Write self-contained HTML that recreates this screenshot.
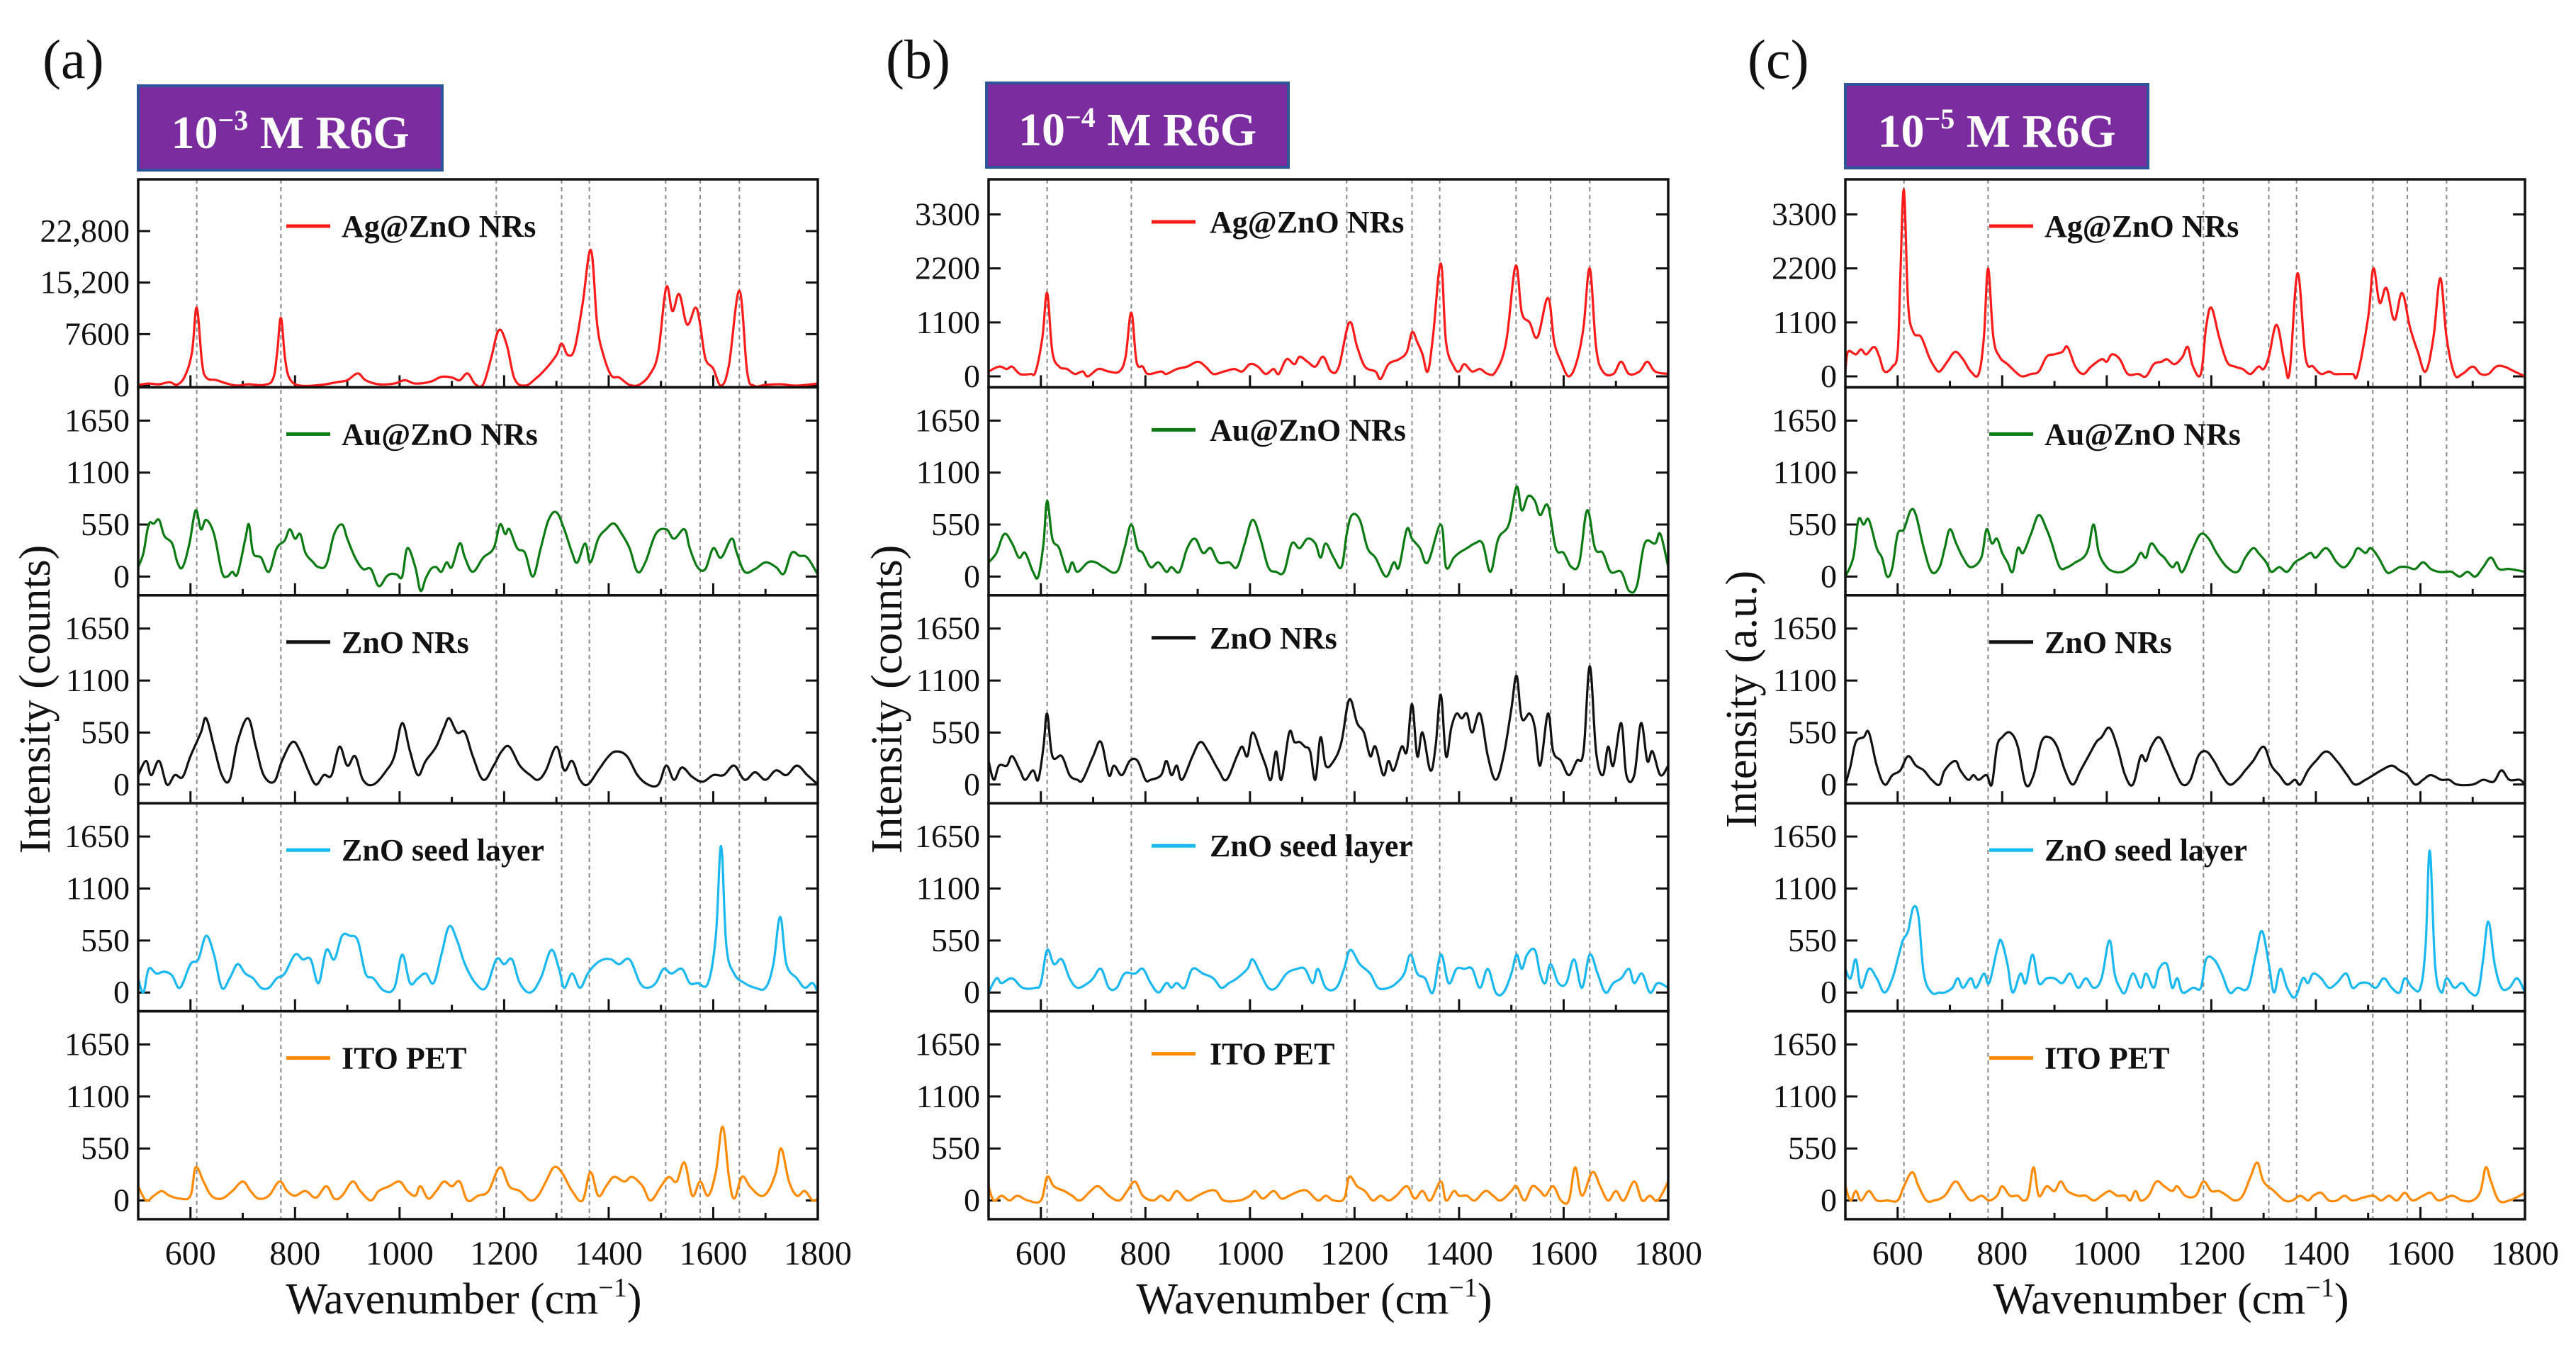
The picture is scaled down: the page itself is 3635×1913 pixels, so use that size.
<!DOCTYPE html>
<html><head><meta charset="utf-8"><style>
html,body{margin:0;padding:0;background:#fff;}
svg{display:block;}
svg text{font-family:"Liberation Serif","Times New Roman",serif;}
</style></head><body>
<svg id="fig" width="3635" height="1913" viewBox="0 0 3635 1913" xmlns="http://www.w3.org/2000/svg" font-family="Liberation Serif, serif"></svg>
<script>
// ---------- DATA (wavenumber, intensity pairs) ----------
const peakLines = [612, 773, 1185, 1310, 1363, 1509, 1575, 1650];
const xTicks = [600, 800, 1000, 1200, 1400, 1600, 1800];
const xMinor = [500, 700, 900, 1100, 1300, 1500, 1700];
const ticksAgA = [0, 7600, 15200, 22800];
const tickLabelsAgA = ["0", "7600", "15,200", "22,800"];
const ticksAgBC = [0, 1100, 2200, 3300];
const ticksLow = [0, 550, 1100, 1650];
const seriesNames = ["Ag@ZnO NRs", "Au@ZnO NRs", "ZnO NRs", "ZnO seed layer", "ITO PET"];
const seriesColors = ["#ff1a1a", "#0a7a12", "#111111", "#19b8f0", "#ff8a00"];
const panelLabels = ["(a)", "(b)", "(c)"];
const panelExp = ["\u22123", "\u22124", "\u22125"];
const yTitles = ["Intensity (counts)", "Intensity (counts)", "Intensity (a.u.)"];

const aAg = [500,100,520,300,540,200,560,500,575,150,590,1500,603,5000,612,11500,622,3500,630,1200,650,800,670,300,690,0,710,200,740,100,758,1000,766,5000,773,10000,781,4000,790,1000,810,0,850,100,880,500,900,800,920,1800,935,800,960,200,990,300,1010,800,1030,300,1060,600,1080,1300,1100,1200,1115,800,1130,1800,1145,200,1160,200,1175,4000,1190,8200,1205,6000,1220,1000,1240,0,1260,1000,1280,2500,1300,4500,1310,6200,1322,4500,1335,5500,1350,12000,1366,20000,1378,9000,1390,4500,1405,1500,1420,1200,1440,100,1460,200,1480,1800,1495,5000,1510,14500,1522,11000,1535,13500,1550,9000,1566,11500,1575,9000,1585,4000,1600,2500,1615,0,1630,3000,1650,14000,1665,2000,1678,0,1700,100,1730,200,1760,0,1800,300];
const aAu = [500,100,510,250,520,550,530,560,540,600,550,430,565,350,575,150,585,100,598,350,610,700,620,500,630,600,645,450,660,50,670,0,680,50,690,30,705,400,712,550,720,250,735,200,750,50,765,300,780,380,790,500,800,400,810,450,820,250,835,150,845,100,860,130,875,450,890,550,900,400,915,200,930,80,945,80,960,-100,975,0,985,30,995,20,1005,0,1015,300,1030,100,1040,-150,1050,-20,1060,80,1070,100,1080,50,1090,150,1100,100,1115,350,1125,200,1140,50,1160,200,1180,300,1192,550,1202,450,1210,500,1225,300,1240,250,1255,0,1270,300,1285,600,1300,680,1315,500,1330,250,1340,150,1355,350,1365,150,1380,400,1395,500,1410,560,1425,450,1440,300,1455,50,1470,150,1490,450,1510,500,1525,400,1545,500,1555,300,1570,100,1585,80,1600,300,1615,200,1635,400,1645,250,1660,50,1680,80,1700,150,1720,100,1735,30,1750,250,1765,220,1780,200,1800,20];
const aZnO = [500,100,515,250,525,100,540,250,555,0,570,100,585,80,600,300,620,550,630,700,645,400,660,100,675,50,690,450,710,700,725,400,740,100,760,30,775,250,795,450,810,350,825,150,840,0,855,100,870,100,885,400,900,200,915,300,930,50,950,0,975,150,990,300,1005,650,1020,350,1035,100,1050,250,1070,400,1085,600,1095,700,1110,550,1125,550,1140,300,1160,50,1180,200,1195,350,1210,400,1230,200,1250,100,1265,50,1280,150,1300,400,1315,150,1330,250,1345,50,1360,0,1380,150,1400,300,1415,350,1435,300,1455,100,1475,0,1495,0,1510,200,1525,50,1540,180,1560,80,1580,30,1600,100,1620,100,1640,200,1660,50,1680,130,1700,50,1720,150,1740,100,1760,200,1780,100,1800,0];
const aSeed = [500,150,510,0,520,250,535,200,550,220,565,180,580,50,600,300,615,350,630,600,645,400,660,50,675,150,690,300,705,200,720,150,735,50,750,50,765,150,780,200,800,400,815,350,830,350,845,100,860,450,875,350,890,600,905,600,920,550,935,200,950,150,970,20,990,50,1005,400,1020,100,1035,150,1050,200,1065,100,1080,400,1095,700,1110,550,1125,300,1145,100,1165,50,1185,350,1200,300,1215,350,1230,100,1250,0,1270,150,1290,450,1305,250,1315,50,1330,200,1345,50,1360,200,1375,300,1390,350,1405,350,1420,300,1440,350,1460,100,1475,50,1490,100,1505,250,1520,200,1540,250,1555,100,1570,100,1590,100,1605,600,1615,1550,1625,500,1640,200,1660,100,1680,50,1700,50,1715,300,1728,800,1740,300,1760,150,1775,50,1790,100,1800,0];
const aITO = [500,150,515,0,530,50,545,100,560,50,580,20,600,50,610,350,625,200,640,50,660,20,680,100,700,200,715,100,730,20,750,50,770,200,785,100,800,50,820,100,840,30,860,150,875,20,890,50,910,200,925,100,945,0,960,100,980,150,1000,200,1015,100,1030,50,1040,150,1055,20,1070,100,1085,200,1100,150,1115,200,1130,0,1150,50,1170,100,1192,350,1210,150,1230,100,1250,0,1265,50,1280,200,1295,350,1310,300,1330,100,1350,0,1365,300,1380,50,1395,150,1410,250,1430,200,1445,250,1465,150,1480,0,1500,150,1515,250,1530,200,1545,400,1560,50,1575,200,1590,50,1605,300,1618,780,1630,250,1640,20,1655,250,1670,150,1690,50,1705,100,1720,300,1730,550,1745,200,1760,50,1775,100,1790,0,1800,20];

const bAg = [500,100,520,200,535,150,545,200,560,50,580,50,590,100,603,800,612,1700,622,500,635,200,650,150,665,50,680,100,690,0,710,150,730,100,750,100,762,400,773,1300,783,300,795,200,805,50,830,100,840,50,860,150,880,200,900,300,915,200,930,50,950,100,970,150,985,100,1000,250,1015,200,1030,50,1045,150,1055,50,1070,350,1085,250,1095,400,1110,300,1125,200,1140,400,1155,100,1170,200,1190,1100,1205,600,1220,200,1240,100,1250,-50,1265,250,1285,350,1300,500,1310,900,1320,700,1330,450,1340,100,1350,800,1365,2300,1375,700,1390,200,1400,100,1410,250,1425,100,1440,150,1455,50,1470,100,1490,700,1508,2250,1520,1300,1535,1100,1550,800,1570,1600,1582,700,1595,300,1610,0,1625,300,1638,1000,1650,2200,1662,600,1675,100,1695,50,1710,300,1725,50,1745,100,1760,300,1775,100,1800,50];
const bAu = [500,150,515,250,530,450,545,350,558,200,570,250,585,50,595,0,605,350,612,800,622,400,635,300,650,50,660,150,670,50,690,150,705,150,720,100,745,50,760,300,773,550,785,300,795,250,810,100,825,150,840,50,850,100,865,50,880,300,895,400,910,250,925,300,940,150,960,150,975,100,990,350,1005,600,1020,400,1035,100,1050,50,1065,50,1080,350,1095,300,1110,400,1125,350,1135,200,1145,350,1160,200,1175,100,1185,450,1195,650,1210,600,1225,300,1240,200,1260,0,1275,150,1285,100,1300,500,1310,400,1325,300,1340,150,1365,550,1375,100,1390,200,1400,250,1415,300,1430,350,1445,350,1460,50,1475,400,1495,550,1510,950,1520,700,1532,850,1545,800,1555,650,1570,750,1585,300,1600,250,1615,100,1630,150,1645,700,1660,300,1675,250,1690,50,1710,50,1725,-150,1740,-100,1755,350,1775,350,1785,450,1800,100];
const bZnO = [500,250,510,50,520,200,535,200,545,300,560,150,570,50,585,150,595,50,605,400,612,750,622,300,640,300,655,100,670,50,680,50,700,300,715,450,730,100,740,200,755,100,770,250,785,250,800,50,810,50,830,100,840,250,850,100,860,200,870,50,890,300,905,450,920,350,940,150,955,50,975,300,985,400,995,300,1005,550,1020,350,1030,200,1040,50,1050,350,1060,50,1075,550,1085,450,1095,450,1105,400,1115,350,1125,50,1135,500,1145,200,1160,250,1175,450,1190,900,1205,650,1218,550,1230,300,1240,400,1255,100,1265,250,1275,150,1290,400,1300,350,1310,850,1320,300,1330,550,1345,150,1355,400,1365,950,1375,300,1385,600,1395,750,1405,700,1415,750,1425,550,1440,750,1455,300,1470,50,1485,300,1500,800,1510,1150,1520,700,1535,750,1545,600,1555,200,1570,750,1580,350,1595,250,1610,100,1625,250,1638,350,1650,1250,1662,350,1675,100,1685,400,1695,200,1710,650,1720,100,1735,100,1748,650,1760,250,1770,350,1785,100,1800,200];
const bSeed = [500,0,515,150,525,100,545,150,565,50,590,50,600,100,612,450,625,300,640,350,655,150,670,50,690,100,700,150,715,250,730,50,745,50,760,200,780,200,795,250,810,100,825,0,840,100,850,50,860,100,875,50,890,250,910,200,930,150,945,50,960,100,975,150,995,250,1005,350,1020,200,1035,50,1050,50,1070,200,1090,250,1105,250,1120,100,1130,250,1145,50,1165,50,1180,250,1192,450,1210,300,1230,200,1245,50,1265,50,1280,100,1295,200,1307,400,1320,200,1335,150,1350,0,1365,400,1380,100,1395,250,1410,250,1425,250,1440,50,1455,250,1470,0,1485,0,1500,200,1510,400,1520,250,1530,400,1545,450,1555,200,1565,100,1575,300,1590,100,1605,100,1620,350,1635,50,1650,400,1665,200,1680,0,1695,100,1710,150,1725,250,1735,100,1750,200,1765,0,1780,100,1800,50];
const bITO = [500,150,510,0,525,50,540,0,555,50,575,0,600,0,612,250,625,150,645,100,660,50,675,0,695,100,710,150,730,50,750,0,765,100,780,200,795,50,815,0,830,50,845,0,860,100,880,0,900,50,920,100,935,100,950,0,980,0,1000,50,1010,100,1025,20,1045,100,1060,20,1075,50,1095,100,1110,100,1130,0,1145,50,1160,0,1180,20,1190,250,1205,150,1220,100,1235,0,1250,50,1265,0,1280,50,1300,150,1315,20,1330,100,1345,0,1365,200,1375,0,1390,100,1400,50,1415,50,1430,0,1450,100,1465,50,1480,0,1500,100,1510,150,1525,0,1540,150,1555,100,1565,50,1580,150,1595,0,1610,0,1622,350,1635,50,1655,300,1670,150,1685,0,1700,100,1715,0,1735,200,1750,0,1765,50,1780,0,1800,200];

const cAg = [500,100,505,500,520,450,530,550,540,450,555,600,565,400,575,100,590,200,600,500,605,2000,612,3800,620,1500,630,900,645,800,660,400,670,200,680,100,695,300,710,500,725,350,740,100,755,50,765,800,773,2200,783,800,795,400,810,250,830,50,840,0,855,50,870,100,885,400,900,450,915,500,925,600,940,200,955,50,970,200,990,350,1000,300,1010,450,1025,350,1040,50,1060,50,1075,0,1090,250,1105,300,1115,350,1130,250,1145,400,1155,600,1165,200,1180,50,1190,1000,1200,1400,1215,800,1230,300,1245,200,1260,150,1275,50,1290,200,1300,150,1310,400,1325,1050,1340,300,1350,100,1365,2100,1380,400,1395,200,1410,50,1425,100,1435,50,1450,50,1470,50,1480,50,1500,1200,1510,2200,1522,1500,1535,1800,1550,1150,1565,1700,1580,1000,1595,500,1610,100,1625,800,1638,2000,1650,800,1665,50,1680,50,1700,200,1715,50,1730,50,1745,200,1760,200,1780,100,1800,0];
const cAu = [500,0,515,200,525,600,535,550,545,600,560,300,570,200,580,0,590,100,600,450,612,500,625,700,635,650,650,300,665,50,680,100,690,300,700,500,712,350,725,200,740,100,760,200,770,500,780,350,790,400,800,250,810,150,820,50,830,300,840,250,855,450,870,650,885,500,895,350,910,100,925,100,940,150,955,200,965,300,975,550,985,250,1000,100,1015,50,1030,50,1045,100,1055,150,1065,250,1075,200,1085,350,1100,250,1110,200,1125,100,1135,150,1145,50,1165,300,1180,450,1195,400,1210,250,1230,100,1250,50,1265,200,1280,300,1290,250,1305,150,1315,50,1330,100,1345,50,1360,150,1375,200,1390,250,1400,200,1420,300,1440,150,1455,100,1470,200,1480,300,1495,250,1505,300,1520,200,1535,50,1545,50,1560,100,1575,100,1590,80,1605,150,1620,80,1635,50,1650,50,1660,50,1675,0,1690,50,1705,0,1720,100,1735,200,1750,80,1770,80,1800,50];
const cZnO = [500,0,510,200,520,450,535,500,545,550,560,200,575,0,590,100,605,150,620,300,635,200,650,150,665,50,680,0,690,150,710,250,720,150,735,50,745,100,755,50,770,100,780,0,790,400,800,500,815,550,830,400,845,0,860,100,875,450,890,500,905,400,920,150,935,0,950,150,965,300,980,450,990,500,1005,600,1020,400,1035,100,1050,0,1065,300,1075,250,1085,400,1100,500,1115,350,1130,150,1145,0,1160,50,1175,300,1190,350,1205,250,1220,100,1235,0,1250,50,1265,150,1280,250,1300,400,1315,200,1330,100,1345,0,1360,50,1370,0,1385,150,1400,250,1420,350,1440,250,1460,100,1475,0,1495,50,1510,100,1525,150,1545,200,1560,150,1575,100,1590,0,1605,50,1620,100,1640,50,1655,50,1670,0,1700,0,1720,50,1740,30,1755,150,1770,50,1790,50,1800,0];
const cSeed = [500,250,510,150,520,350,530,50,545,250,560,150,575,0,590,150,600,350,610,550,620,650,630,900,640,800,650,200,665,0,680,0,690,0,705,50,715,150,725,50,740,150,750,50,765,200,775,100,790,450,798,550,810,300,820,0,835,200,845,100,858,400,870,100,885,150,900,150,915,100,930,200,945,50,960,150,975,50,990,150,1005,550,1015,200,1025,50,1035,0,1050,200,1065,50,1075,200,1090,50,1100,250,1115,300,1125,50,1135,150,1145,0,1165,50,1180,50,1190,350,1205,350,1220,200,1235,0,1250,50,1270,50,1285,400,1297,650,1310,300,1320,0,1332,250,1345,50,1360,-50,1375,150,1385,100,1395,200,1410,150,1425,50,1440,100,1458,200,1470,50,1485,100,1500,100,1515,50,1530,150,1545,50,1560,0,1570,150,1585,50,1600,50,1610,500,1618,1500,1628,300,1640,0,1650,150,1665,50,1680,100,1695,0,1710,0,1720,350,1730,750,1742,300,1755,50,1770,50,1785,150,1800,0];
const cITO = [500,150,510,0,520,100,530,0,545,100,560,0,580,0,600,0,612,150,628,300,640,150,655,0,670,0,690,50,710,200,725,100,740,0,760,50,775,0,790,50,800,150,815,50,830,50,840,0,850,50,860,350,870,50,885,150,900,100,912,200,925,100,945,50,960,50,975,0,990,50,1005,100,1020,50,1035,50,1045,0,1055,100,1065,0,1080,50,1095,200,1110,150,1125,100,1135,150,1150,50,1170,50,1185,200,1200,100,1215,100,1230,50,1245,0,1260,50,1275,250,1288,400,1300,200,1320,100,1340,0,1355,0,1370,50,1385,0,1395,50,1410,80,1425,0,1440,0,1455,50,1470,0,1490,30,1510,50,1525,0,1540,50,1555,0,1570,80,1585,0,1605,50,1620,80,1635,0,1660,50,1680,0,1700,0,1715,100,1725,350,1735,200,1750,0,1770,0,1790,50,1800,80];

const panelData = [[aAg,aAu,aZnO,aSeed,aITO],[bAg,bAu,bZnO,bSeed,bITO],[cAg,cAu,cZnO,cSeed,cITO]];

// ---------- LAYOUT ----------
const NS = "http://www.w3.org/2000/svg";
const FONT = "Liberation Serif, Times New Roman, serif";
const svg = document.getElementById("fig");
const plotLefts = [195, 1395, 2604];
const plotW = 959, plotTop = 253, plotBot = 1720;
const subH = (plotBot - plotTop) / 5;
const xMin = 500, xMax = 1800;
const titleBoxes = [[195,121,429,119],[1392,117,426,119],[2604,119,427,118]];
const labelX = [60, 1250, 2466];
const yTitleX = [50, 1252, 2458];
const legendDx = [[209,287],[230,312],[203,281]];
const legendDy = [66, 60, 66];

function el(tag, attrs, parent){
  const e = document.createElementNS(NS, tag);
  for (const k in attrs) e.setAttribute(k, attrs[k]);
  if (tag === "text") e.setAttribute("font-family", FONT);
  (parent || svg).appendChild(e);
  return e;
}
function smoothPath(pts){
  let d = "M" + pts[0][0].toFixed(1) + "," + pts[0][1].toFixed(1);
  for (let i = 0; i < pts.length - 1; i++){
    const p0 = pts[Math.max(0,i-1)], p1 = pts[i], p2 = pts[i+1], p3 = pts[Math.min(pts.length-1,i+2)];
    const t = 0.18;
    const c1x = p1[0] + (p2[0]-p0[0])*t, c1y = p1[1] + (p2[1]-p0[1])*t;
    const c2x = p2[0] - (p3[0]-p1[0])*t, c2y = p2[1] - (p3[1]-p1[1])*t;
    d += " C" + c1x.toFixed(1)+","+c1y.toFixed(1)+" "+c2x.toFixed(1)+","+c2y.toFixed(1)+" "+p2[0].toFixed(1)+","+p2[1].toFixed(1);
  }
  return d;
}

for (let p = 0; p < 3; p++){
  const L = plotLefts[p];
  const g = el("g", {});
  
  
  const xs = v => L + (v - xMin) / (xMax - xMin) * plotW;

  const lab = el("text", {x: labelX[p], y: 110, "font-size": 78, fill: "#111"}, g);
  lab.textContent = panelLabels[p];
  
  

  const tb = titleBoxes[p];
  const box = el("rect", {x: tb[0], y: tb[1], width: tb[2], height: tb[3], fill: "#7b2c9f", stroke: "#2e5597", "stroke-width": 4}, g);
  
  
  const tt = el("text", {x: tb[0] + tb[2]/2, y: tb[1] + 88, "font-size": 66, "font-weight": "bold", fill: "#fff", "text-anchor": "middle"}, g);
  
  
  const s1 = el("tspan", {}, tt); s1.textContent = "10";
  const s2 = el("tspan", {dy: -26, "font-size": 40}, tt); s2.textContent = panelExp[p];
  const s3 = el("tspan", {dy: 26}, tt); s3.textContent = " M R6G";

  for (const w of peakLines){
    const ln = el("line", {x1: xs(w), x2: xs(w), y1: plotTop, y2: plotBot, stroke: "#8a8a8a", "stroke-width": 2, "stroke-dasharray": "6 5"}, g);
    
    
  }

  for (let s = 0; s < 5; s++){
    const top = plotTop + s*subH, bot = top + subH;
    let lo, hi, ticks, tlabels;
    if (s === 0 && p === 0){ lo = -251; hi = 30435; ticks = ticksAgA; tlabels = tickLabelsAgA; }
    else if (s === 0){ lo = -222; hi = 4015; ticks = ticksAgBC; tlabels = ticksAgBC.map(String); }
    else { lo = -198; hi = 2002; ticks = ticksLow; tlabels = ticksLow.map(String); }
    const ys = v => bot - (v - lo) / (hi - lo) * subH;

    ticks.forEach((tv, i) => {
      const y = ys(tv);
      const t1 = el("line", {x1: L, x2: L + 17, y1: y, y2: y, stroke: "#111", "stroke-width": 3}, g);
      
      
      const t2 = el("line", {x1: L + plotW - 17, x2: L + plotW, y1: y, y2: y, stroke: "#111", "stroke-width": 3}, g);
      
      
      const tl = el("text", {x: L - 12, y: y + 15, "font-size": 46, "text-anchor": "end", fill: "#111"}, g);
      tl.textContent = tlabels[i];
      
      
    });
    for (const xv of xTicks){
      const t = el("line", {x1: xs(xv), x2: xs(xv), y1: bot, y2: bot - 17, stroke: "#111", "stroke-width": 3}, g);
      
      
    }
    for (const xv of xMinor){
      const t = el("line", {x1: xs(xv), x2: xs(xv), y1: bot, y2: bot - 9, stroke: "#111", "stroke-width": 3}, g);
      
      
    }

    const arr = panelData[p][s];
    const pts = [];
    for (let i = 0; i < arr.length; i += 2) pts.push([xs(arr[i]), ys(arr[i+1])]);
    const path = el("path", {d: smoothPath(pts), fill: "none", stroke: seriesColors[s], "stroke-width": 3.2, "stroke-linejoin": "round"}, g);
    
    

    const ly = top + legendDy[p];
    const ll = el("line", {x1: L + legendDx[p][0], x2: L + legendDx[p][0] + 62, y1: ly, y2: ly, stroke: seriesColors[s], "stroke-width": 5}, g);
    
    
    const lt = el("text", {x: L + legendDx[p][1], y: ly + 15, "font-size": 44, "font-weight": "bold", fill: "#111"}, g);
    lt.textContent = seriesNames[s];
    
    

    const fr = el("rect", {x: L, y: top, width: plotW, height: subH, fill: "none", stroke: "#111", "stroke-width": 3.5}, g);
    
    
  }

  for (const xv of xTicks){
    const t = el("text", {x: xs(xv), y: 1784, "font-size": 48, "text-anchor": "middle", fill: "#111"}, g);
    t.textContent = String(xv);
    
    
  }
  const xt = el("text", {x: L + plotW/2 - 20, y: 1853, "font-size": 62, "text-anchor": "middle", fill: "#111"}, g);
  
  
  const x1 = el("tspan", {}, xt); x1.textContent = "Wavenumber (cm";
  const x2 = el("tspan", {dy: -24, "font-size": 38}, xt); x2.textContent = "\u22121";
  const x3 = el("tspan", {dy: 24}, xt); x3.textContent = ")";
  const yc = (plotTop + plotBot)/2;
  const yt = el("text", {x: yTitleX[p], y: yc, "font-size": 62, "text-anchor": "middle", fill: "#111", transform: "rotate(-90 " + yTitleX[p] + " " + yc + ")", dy: 20}, g);
  yt.textContent = yTitles[p];
  
  
}
</script>
</body></html>
